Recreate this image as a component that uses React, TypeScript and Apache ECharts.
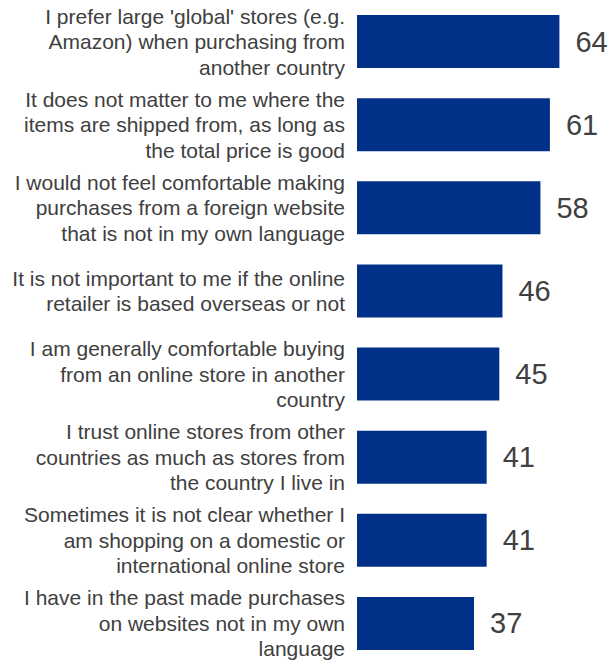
import React, { useEffect, useRef } from "react";
import * as echarts from "echarts";

const categories: string[] = [
  "I prefer large 'global' stores (e.g.\nAmazon) when purchasing from\nanother country",
  "It does not matter to me where the\nitems are shipped from, as long as\nthe total price is good",
  "I would not feel comfortable making\npurchases from a foreign website\nthat is not in my own language",
  "It is not important to me if the online\nretailer is based overseas or not",
  "I am generally comfortable buying\nfrom an online store in another\ncountry",
  "I trust online stores from other\ncountries as much as stores from\nthe country I live in",
  "Sometimes it is not clear whether I\nam shopping on a domestic or\ninternational online store",
  "I have in the past made purchases\non websites not in my own\nlanguage",
];

const values: number[] = [64, 61, 58, 46, 45, 41, 41, 37];

export default function App() {
  const ref = useRef<HTMLDivElement>(null);
  useEffect(() => {
    if (!ref.current) return;
    const chart = echarts.init(ref.current, undefined, { renderer: "svg" });
    chart.setOption({
      animation: false,
      grid: { left: 357, top: -2, width: 253, height: 667, containLabel: false },
      xAxis: {
        type: "value",
        min: 0,
        max: 80,
        show: false,
      },
      yAxis: {
        type: "category",
        data: categories,
        inverse: true,
        axisLine: { show: false },
        axisTick: { show: false },
        splitLine: { show: false },
        axisLabel: {
          margin: 12,
          align: "right",
          fontFamily: "Liberation Sans, Arial, sans-serif",
          fontSize: 21,
          lineHeight: 25.5,
          color: "#404040",
        },
      },
      series: [
        {
          type: "bar",
          data: values,
          barWidth: 53,
          itemStyle: { color: "#003087" },
          label: {
            show: true,
            position: "right",
            distance: 16,
            fontFamily: "Liberation Sans, Arial, sans-serif",
            fontSize: 29,
            color: "#404040",
          },
        },
      ],
    });
    return () => chart.dispose();
  }, []);
  return (
    <div
      ref={ref}
      style={{ position: "fixed", left: 0, top: 0, width: 611, height: 669, background: "#fff" }}
    />
  );
}
